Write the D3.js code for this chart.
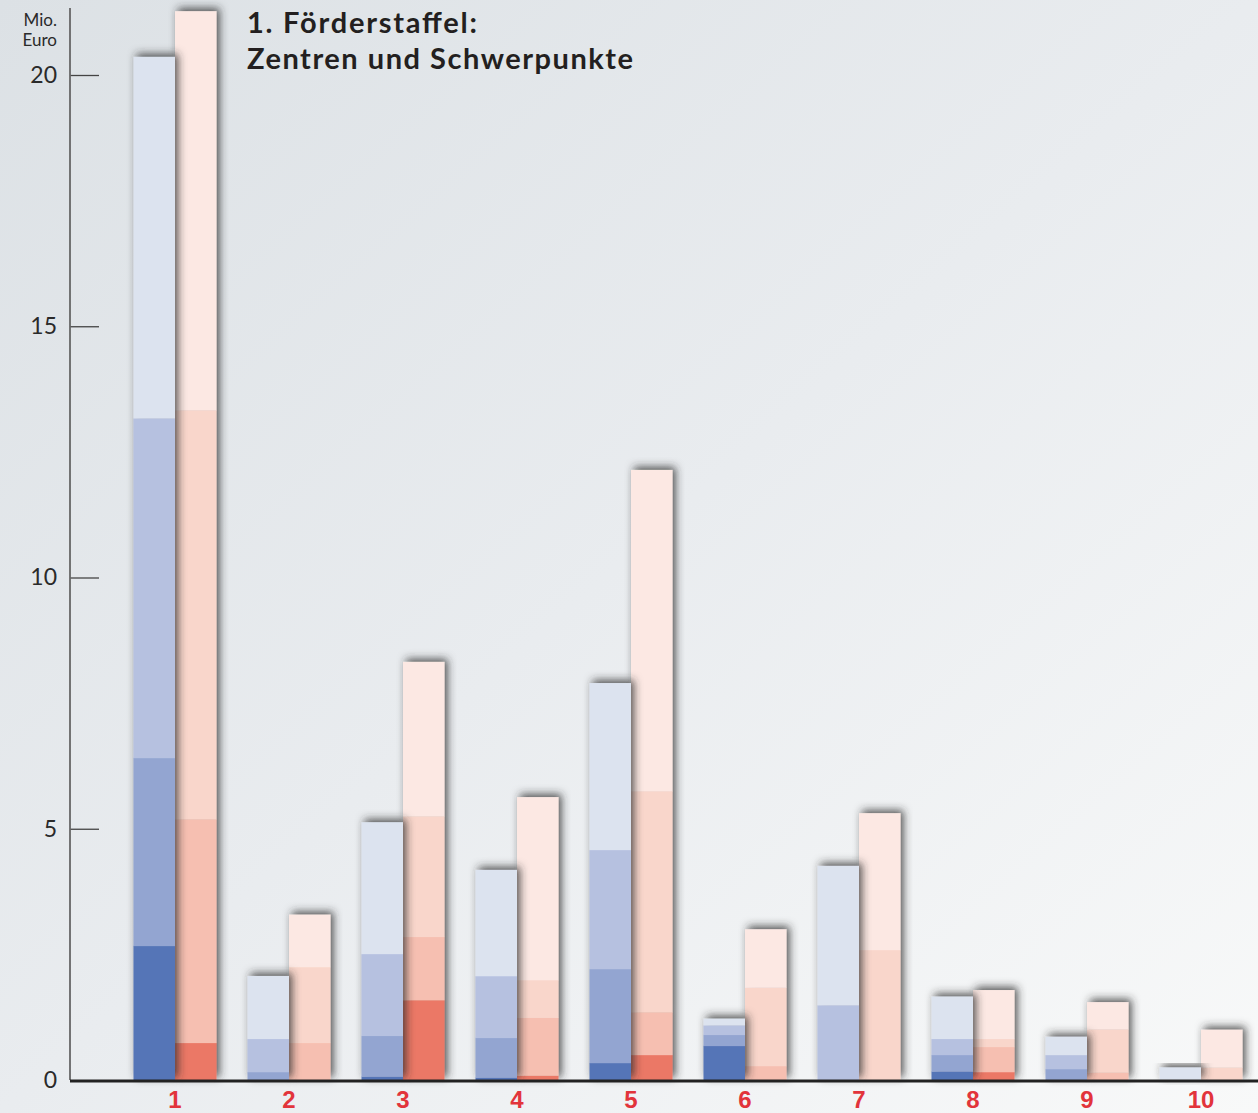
<!DOCTYPE html>
<html><head><meta charset="utf-8">
<script src="https://cdn.jsdelivr.net/npm/d3@7"></script>
<style>html,body{margin:0;padding:0;overflow:hidden;background:#fff}</style>
</head><body><svg id="c" width="1258" height="1113"></svg>
<script>
// ---- data ----
const categories = ["1","2","3","4","5","6","7","8","9","10"];
const levels = ["dark","mid","light","lightest"];
// blue bars: segment heights (Mio. Euro), bottom to top
const blueDark     = [2.67, 0.00, 0.07, 0.05, 0.34, 0.68, 0.00, 0.17, 0.00, 0.00];
const blueMid      = [3.74, 0.16, 0.81, 0.79, 1.87, 0.22, 0.00, 0.33, 0.22, 0.00];
const blueLight    = [6.76, 0.66, 1.63, 1.23, 2.37, 0.19, 1.49, 0.32, 0.28, 0.00];
const blueLightest = [7.19, 1.25, 2.62, 2.11, 3.32, 0.13, 2.77, 0.84, 0.36, 0.25];
// red bars: segment heights (Mio. Euro), bottom to top
const redDark      = [0.74, 0.00, 1.59, 0.09, 0.50, 0.00, 0.00, 0.16, 0.00, 0.00];
const redMid       = [4.45, 0.74, 1.26, 1.15, 0.85, 0.28, 0.00, 0.50, 0.15, 0.00];
const redLight     = [8.14, 1.51, 2.40, 0.75, 4.40, 1.56, 2.59, 0.16, 0.86, 0.25];
const redLightest  = [7.94, 1.04, 3.07, 3.64, 6.39, 1.16, 2.72, 0.97, 0.54, 0.75];
const yTicks = [0, 5, 10, 15, 20];
const titleLines = ["1. Förderstaffel:", "Zentren und Schwerpunkte"];
const unitLines = ["Mio.", "Euro"];

const blueColors = {dark:"#5575b7", mid:"#93a5d1", light:"#b6c1e0", lightest:"#dce3ef"};
const redColors  = {dark:"#eb7866", mid:"#f6bfb1", light:"#f9d6cb", lightest:"#fce8e3"};

const svg = d3.select("#c");
const W = 1258, H = 1113;

// background gradient
const defs = svg.append("defs");
const grad = defs.append("linearGradient").attr("id","bg")
  .attr("x1","0").attr("y1","0").attr("x2","1").attr("y2","1");
grad.append("stop").attr("offset","0").attr("stop-color","#dce1e5");
grad.append("stop").attr("offset","0.5").attr("stop-color","#e9ecef");
grad.append("stop").attr("offset","1").attr("stop-color","#f8f9f9");
svg.append("rect").attr("width",W).attr("height",H).attr("fill","url(#bg)");

const f = defs.append("filter").attr("id","sh")
  .attr("x","-30%").attr("y","-30%").attr("width","160%").attr("height","160%");
f.append("feDropShadow").attr("dx",3).attr("dy",-3).attr("stdDeviation",4.5)
  .attr("flood-color","#2a2a2a").attr("flood-opacity",0.8);

// scales
const x = d3.scaleBand().domain(categories).range([118, 1258])
  .paddingInner(0.272).paddingOuter(0.136);
const xs = d3.scaleBand().domain(["blue","red"]).range([0, x.bandwidth()]);
const y = d3.scaleLinear().domain([0, 20]).range([1080, 75]);

function rows(a,b,c,d){ return categories.map((cat,i)=>({cat, dark:a[i], mid:b[i], light:c[i], lightest:d[i]})); }
const stack = d3.stack().keys(levels);
const blueStack = stack(rows(blueDark, blueMid, blueLight, blueLightest));
const redStack  = stack(rows(redDark, redMid, redLight, redLightest));

function drawSeries(st, key, colors){
  categories.forEach((cat,i)=>{
    const g = svg.append("g").attr("filter","url(#sh)");
    st.forEach(layer=>{
      const d = layer[i];
      const h = y(d[0]) - y(d[1]);
      if (h <= 0) return;
      g.append("rect")
        .attr("x", x(cat) + xs(key))
        .attr("width", xs.bandwidth())
        .attr("y", y(d[1]))
        .attr("height", h + 0.3)
        .attr("fill", colors[layer.key]);
    });
  });
}
drawSeries(redStack, "red", redColors);
drawSeries(blueStack, "blue", blueColors);

// y axis
const yAxis = d3.axisLeft(y).tickValues(yTicks).tickSize(-29).tickPadding(13).tickFormat(d3.format("d"));
const ga = svg.append("g").attr("transform","translate(70,0)").call(yAxis);
ga.select(".domain").remove();
ga.selectAll(".tick line").attr("stroke","#444").attr("stroke-width",1.3);
ga.selectAll(".tick text").attr("font-family","Lato, sans-serif").attr("font-size",23)
  .attr("fill","#2a2a2a");
ga.selectAll(".tick").filter(d=>d===0).select("line").remove();
svg.append("line").attr("x1",70).attr("x2",70).attr("y1",8).attr("y2",1080)
  .attr("stroke","#666").attr("stroke-width",1.8);

// baseline
svg.append("line").attr("x1",70).attr("x2",W).attr("y1",y(0)+1).attr("y2",y(0)+1)
  .attr("stroke","#222").attr("stroke-width",3);

// unit label
svg.append("g").selectAll("text").data(unitLines).join("text")
  .attr("x",57).attr("y",(d,i)=>26+i*20).attr("text-anchor","end")
  .attr("font-family","Lato, sans-serif").attr("font-size",17).attr("fill","#2a2a2a").text(d=>d);

// x labels
const xa = d3.axisBottom(x).tickSize(0).tickPadding(0);
const gx = svg.append("g").attr("transform","translate(0,1108)").call(xa);
gx.select(".domain").remove();
gx.selectAll(".tick text").attr("dy",0).attr("y",0)
  .attr("font-family","'Liberation Sans', Arial, sans-serif").attr("font-weight","bold")
  .attr("font-size",24).attr("fill","#e2343b");

// title
const titleWidths = [230, 386];
svg.append("g").selectAll("text").data(titleLines).join("text")
  .attr("x",247).attr("y",(d,i)=>33+i*36)
  .attr("font-family","Lato, sans-serif").attr("font-weight","bold").attr("font-size",29)
  .attr("textLength",(d,i)=>titleWidths[i]).attr("lengthAdjust","spacing")
  .attr("fill","#231f20").text(d=>d);
</script></body></html>
